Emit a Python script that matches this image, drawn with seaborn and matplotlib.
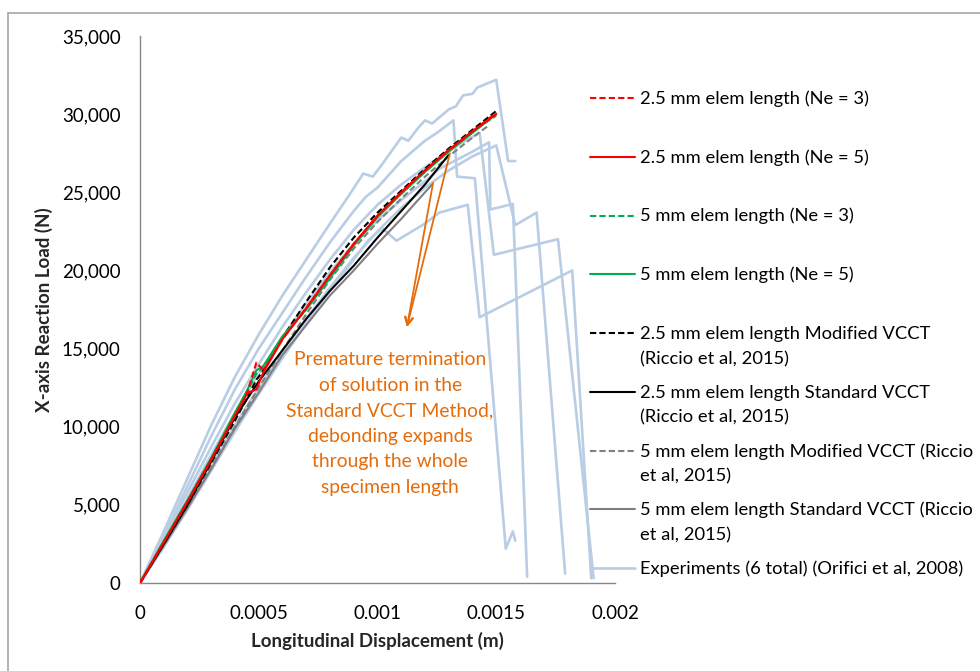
import matplotlib
matplotlib.use("Agg")
import matplotlib.pyplot as plt
from matplotlib.lines import Line2D
from matplotlib.ticker import FuncFormatter
import seaborn as sns
import numpy as np

# ---------------- data ----------------
# simulation curves (displacement in m, load in N)
x_fine = [0, 0.0001, 0.0002, 0.0003, 0.0004, 0.00045, 0.00049, 0.00052, 0.0006,
          0.0007, 0.0008, 0.0009, 0.001, 0.0011, 0.0012, 0.0013, 0.0014, 0.0015]
y_25_ne3 = [0, 2600, 5200, 7900, 10700, 12100, 14100, 13600, 15600,
            17600, 19700, 21700, 23500, 25000, 26400, 27700, 28900, 30100]
y_25_ne5 = [0, 2600, 5200, 7900, 10700, 12100, 12400, 13500, 15600,
            17600, 19700, 21700, 23500, 25000, 26400, 27700, 28900, 30000]
y_5_ne3 = [0, 2650, 5250, 7950, 10800, 12200, 13400, 13800, 15700,
           17500, 19600, 21600, 23500, 24900, 26300, 27700, 28900, 29900]
y_5_ne5 = [0, 2700, 5300, 8000, 10900, 12300, 13600, 13900, 15800,
           17500, 19500, 21600, 23400, 24900, 26300, 27600, 28800, 30000]
y_25_mod = [0, 2500, 5000, 7700, 10400, 11800, 13000, 13600, 15700,
            18000, 20200, 22100, 23700, 25100, 26500, 27800, 29000, 30200]

x_5_mod = [0, 0.0001, 0.0002, 0.0003, 0.0004, 0.0005, 0.0006, 0.0007, 0.0008,
           0.0009, 0.001, 0.0011, 0.0012, 0.0013, 0.0014, 0.00147]
y_5_mod = [0, 2400, 4900, 7400, 10000, 12500, 14900, 17200, 19400,
           21400, 23100, 24600, 26000, 27300, 28500, 29300]

x_25_std = [0, 0.0001, 0.0002, 0.0003, 0.0004, 0.0005, 0.0006, 0.0007, 0.0008,
            0.0009, 0.001, 0.0011, 0.0012, 0.0013]
y_25_std = [0, 2500, 5000, 7800, 10600, 12900, 14900, 16900, 18700,
            20300, 22100, 23800, 25500, 27400]

x_5_std = [0, 0.0001, 0.0002, 0.0003, 0.0004, 0.0005, 0.0006, 0.0007, 0.0008,
           0.0009, 0.001, 0.0011, 0.0012, 0.00123]
y_5_std = [0, 2400, 4800, 7300, 9900, 12200, 14600, 16500, 18400,
           20000, 21700, 23300, 25000, 25500]

# experiments (6 specimens)
exp_a_x = [0, 0.0001, 0.0002, 0.0003, 0.0004, 0.0005, 0.0006, 0.0007, 0.0008, 0.00088,
           0.00094, 0.00098, 0.00102, 0.0011, 0.00113, 0.00117, 0.0012, 0.00123, 0.0013,
           0.00133, 0.00136, 0.0014, 0.00142, 0.0015, 0.00155, 0.00158]
exp_a_y = [0, 3300, 6700, 10100, 13200, 15900, 18400, 20700, 23000, 24800,
           26200, 26000, 26800, 28500, 28300, 29100, 29600, 29400, 30300,
           30500, 31200, 31300, 31700, 32200, 27000, 27000]
exp_b_x = [0, 0.0001, 0.0002, 0.0003, 0.0004, 0.0005, 0.0006, 0.0007, 0.0008, 0.0009,
           0.00095, 0.001, 0.0011, 0.0012, 0.00125, 0.00132, 0.001335, 0.00141,
           0.00154, 0.00157, 0.00158]
exp_b_y = [0, 3000, 6200, 9400, 12400, 15000, 17300, 19600, 21800, 23800,
           24700, 25300, 27000, 28300, 28800, 29600, 26000, 25900,
           2200, 3300, 2700]
exp_c_x = [0, 0.0001, 0.0002, 0.0003, 0.0004, 0.0005, 0.0006, 0.0007, 0.0008, 0.0009,
           0.001, 0.0011, 0.0012, 0.0013, 0.00143, 0.00149, 0.00176, 0.00191]
exp_c_y = [0, 2900, 5800, 8700, 11500, 14000, 16400, 18600, 20700, 22600,
           24200, 25500, 26600, 27700, 28800, 21000, 22000, 300]
exp_d_x = [0, 0.0001, 0.0002, 0.0003, 0.0004, 0.0005, 0.0006, 0.0007, 0.0008, 0.0009,
           0.001, 0.0011, 0.0012, 0.00126, 0.0014, 0.00147, 0.001475, 0.00157, 0.00163]
exp_d_y = [0, 2700, 5400, 8200, 10900, 13400, 15700, 17900, 19900, 21700,
           23200, 24500, 25700, 26500, 27600, 28200, 23900, 24250, 400]
exp_e_x = [0, 0.0001, 0.0002, 0.0003, 0.0004, 0.0005, 0.0006, 0.0007, 0.0008, 0.0009,
           0.001, 0.0011, 0.0012, 0.0013, 0.0014, 0.0015, 0.00158, 0.00167, 0.00179]
exp_e_y = [0, 2500, 5000, 7600, 10100, 12500, 14800, 16900, 18900, 20800,
           22500, 24000, 25300, 26400, 27300, 28000, 22900, 23700, 600]
exp_f_x = [0, 0.0001, 0.0002, 0.0003, 0.0004, 0.0005, 0.0006, 0.0007, 0.0008, 0.0009,
           0.00096, 0.00102, 0.00108, 0.0012, 0.00126, 0.00138, 0.00143, 0.00182, 0.0019]
exp_f_y = [0, 2300, 4700, 7200, 9700, 12100, 14400, 16600, 18700, 20700,
           21900, 22700, 21900, 23000, 23700, 24200, 17000, 20000, 300]

x_ticks = [0, 0.0005, 0.001, 0.0015, 0.002]
x_tick_labels = ["0", "0.0005", "0.001", "0.0015", "0.002"]
y_ticks = [0, 5000, 10000, 15000, 20000, 25000, 30000, 35000]

labels = [
    "2.5 mm elem length (Ne = 3)",
    "2.5 mm elem length (Ne = 5)",
    "5 mm elem length (Ne = 3)",
    "5 mm elem length (Ne = 5)",
    "2.5 mm elem length Modified VCCT\n(Riccio et al, 2015)",
    "2.5 mm elem length Standard VCCT\n(Riccio et al, 2015)",
    "5 mm elem length Modified VCCT (Riccio\net al, 2015)",
    "5 mm elem length Standard VCCT (Riccio\net al, 2015)",
    "Experiments (6 total) (Orifici et al, 2008)",
]
note = ("Premature termination\nof solution in the\nStandard VCCT Method,\n"
        "debonding expands\nthrough the whole\nspecimen length")

# ---------------- style ----------------
sns.set_style("white")
plt.rcParams['font.family'] = ['Lato', 'DejaVu Sans']

EXP_C = "#B9CDE5"
ORANGE = "#E46C0A"
AX_C = "#868686"
W, H = 980, 671

fig = plt.figure(figsize=(9.8, 6.71), dpi=100)
ax = fig.add_axes([140 / W, 1 - 583 / H, 475 / W, 547 / H])

exps = [(exp_a_x, exp_a_y), (exp_b_x, exp_b_y), (exp_c_x, exp_c_y),
        (exp_d_x, exp_d_y), (exp_e_x, exp_e_y), (exp_f_x, exp_f_y)]
for ex, ey in exps:
    sns.lineplot(x=ex, y=ey, ax=ax, color=EXP_C, linewidth=1.9, sort=False,
                 estimator=None, zorder=2)

dash = (3, 1.5)
sims = [
    (x_fine, y_25_ne3, "#FF0000", dash),
    (x_fine, y_25_ne5, "#FF0000", None),
    (x_fine, y_5_ne3, "#00B050", dash),
    (x_fine, y_5_ne5, "#00B050", None),
    (x_fine, y_25_mod, "#000000", dash),
    (x_25_std, y_25_std, "#000000", None),
    (x_5_mod, y_5_mod, "#808080", dash),
    (x_5_std, y_5_std, "#7F7F7F", None),
]
draw_order = [7, 6, 5, 4, 1, 0, 3, 2]
for i in draw_order:
    sx, sy, c, d = sims[i]
    sns.lineplot(x=sx, y=sy, ax=ax, color=c, linewidth=1.5, sort=False,
                 estimator=None, zorder=3 + (8 - i) * 0.01)
    if d is not None:
        ax.lines[-1].set_dashes(d)

ax.set_xlim(0, 0.002)
ax.set_ylim(0, 35000)
ax.set_xticks(x_ticks)
ax.set_xticklabels(x_tick_labels)
ax.set_yticks(y_ticks)
ax.yaxis.set_major_formatter(FuncFormatter(lambda v, p: f"{int(v):,}"))
for s in ["top", "right"]:
    ax.spines[s].set_visible(False)
for s in ["left", "bottom"]:
    ax.spines[s].set_color(AX_C)
    ax.spines[s].set_linewidth(1.0)
ax.tick_params(axis="both", direction="out", length=4, width=1, color=AX_C,
               labelsize=13.5, labelcolor="#000000")
ax.tick_params(axis="x", pad=12)
ax.tick_params(axis="y", pad=10)
ax.set_xlabel("Longitudinal Displacement (m)", fontsize=13.5, fontweight="bold",
              labelpad=7)
ax.set_ylabel("X-axis Reaction Load (N)", fontsize=13.5, fontweight="bold",
              labelpad=6)
ax.grid(False)

# annotation
ax.text(0.001053, 10208, note, ha="center", va="center", color=ORANGE,
        fontsize=13.9, linespacing=1.61, zorder=6)
head = (0.001124, 16381)
for tail in [(0.001234, 25600), (0.001305, 27500)]:
    ax.annotate("", xy=head, xytext=tail,
                arrowprops=dict(arrowstyle="->", color=ORANGE, lw=1.3,
                                shrinkA=0, shrinkB=0, mutation_scale=14),
                zorder=6)

# legend (fixed pitch like the reference: sample aligned with first text line)
row0, pitch, line_gap = 98.0, 58.75, 25.0
for i, lab in enumerate(labels):
    yc = row0 + i * pitch
    if i < len(sims):
        c, d, lw = sims[i][2], sims[i][3], 1.5
    else:
        c, d, lw = EXP_C, None, 1.9
    hl = Line2D([590 / W, 635 / W], [1 - yc / H] * 2, transform=fig.transFigure,
                color=c, lw=lw)
    if d is not None:
        hl.set_dashes(d)
    fig.add_artist(hl)
    for j, part in enumerate(lab.split("\n")):
        fig.text(640 / W, 1 - (yc + 6 + j * line_gap) / H, part, ha="left",
                 va="baseline", fontsize=13.2, color="#000000")

# chart-area border (left and top edges)
fig.add_artist(Line2D([8 / W, 8 / W], [0, 1 - 13 / H], color="#A6A6A6", lw=1.2))
fig.add_artist(Line2D([8 / W, 1], [1 - 13 / H, 1 - 13 / H], color="#A6A6A6", lw=1.2))

fig.savefig("out.png", dpi=100)
